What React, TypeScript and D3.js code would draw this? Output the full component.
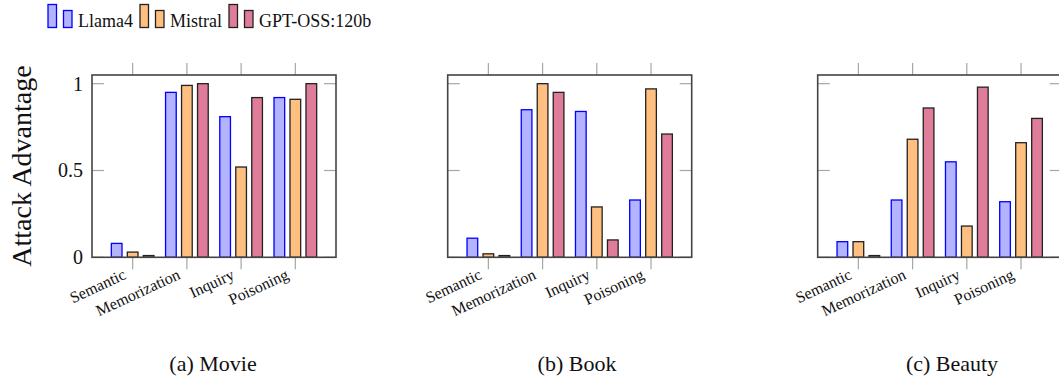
import React from 'react';
import * as d3 from 'd3';

// attack categories and models
const categories = ['Semantic', 'Memorization', 'Inquiry', 'Poisoning'];
const models = ['Llama4', 'Mistral', 'GPT-OSS:120b'];

// values per dataset, one array per model (category order)
const movieLlama = [0.08, 0.95, 0.81, 0.92];
const movieMistral = [0.03, 0.99, 0.52, 0.91];
const movieGpt = [0.01, 1.0, 0.92, 1.0];

const bookLlama = [0.11, 0.85, 0.84, 0.33];
const bookMistral = [0.02, 1.0, 0.29, 0.97];
const bookGpt = [0.01, 0.95, 0.1, 0.71];

const beautyLlama = [0.09, 0.33, 0.55, 0.32];
const beautyMistral = [0.09, 0.68, 0.18, 0.66];
const beautyGpt = [0.01, 0.86, 0.98, 0.8];

const yTicks = [0, 0.5, 1];
const yTickLabels = ['0', '0.5', '1'];

const fills = ['#b3b3ff', '#ffbf80', '#de7c9a'];
const strokes = ['#0000ff', '#222222', '#222222'];

const panels = [
  { caption: '(a) Movie', left: 92, captionX: 213, series: [movieLlama, movieMistral, movieGpt], labels: true },
  { caption: '(b) Book', left: 447.7, captionX: 577, series: [bookLlama, bookMistral, bookGpt], labels: false },
  { caption: '(c) Beauty', left: 817.7, captionX: 952, series: [beautyLlama, beautyMistral, beautyGpt], labels: false },
];

const serif = '"Liberation Serif", "Times New Roman", serif';
const top = 75;
const bottom = 257.3;
const plotW = 244;
const tickGray = '#a6a6a6';

function Panel({ p }: { p: typeof panels[number] }) {
  const x = d3.scaleLinear().domain([-0.75, 3.75]).range([p.left, p.left + plotW]);
  const y = d3.scaleLinear().domain([0, 1.05]).range([bottom, top]);
  const barW = x(0.197) - x(0);
  const offs = [-0.295, 0, 0.295];
  const right = p.left + plotW;

  return (
    <g>
      {/* y ticks inside on both sides */}
      {yTicks.map((t, i) => (
        <g key={'yt' + i}>
          <line x1={p.left} x2={p.left + 12} y1={y(t)} y2={y(t)} stroke={tickGray} strokeWidth={1.2} />
          <line x1={right - 12} x2={right} y1={y(t)} y2={y(t)} stroke={tickGray} strokeWidth={1.2} />
          {p.labels && (
            <text x={p.left - 9} y={y(t)} textAnchor="end" dominantBaseline="central"
              fontFamily={serif} fontSize={20} fill="#111">{yTickLabels[i]}</text>
          )}
        </g>
      ))}
      {/* x ticks outside top and bottom */}
      {categories.map((c, i) => (
        <g key={'xt' + c}>
          <line x1={x(i)} x2={x(i)} y1={top - 12} y2={top} stroke={tickGray} strokeWidth={1.2} />
          <line x1={x(i)} x2={x(i)} y1={bottom} y2={bottom + 12} stroke={tickGray} strokeWidth={1.2} />
          <text transform={`translate(${x(i) - 8},${bottom + 16}) rotate(-25)`} textAnchor="end"
            dominantBaseline="central" fontFamily={serif} fontSize={16} fill="#111">{c}</text>
        </g>
      ))}
      {/* bars */}
      {p.series.map((vals, s) =>
        vals.map((v, i) => (
          <rect key={`b${s}-${i}`} x={x(i + offs[s]) - barW / 2} y={y(v)} width={barW}
            height={y(0) - y(v)} fill={fills[s]} stroke={strokes[s]} strokeWidth={1.3} />
        ))
      )}
      {/* frame */}
      <rect x={p.left} y={top} width={plotW} height={bottom - top} fill="none" stroke="#444" strokeWidth={1.6} />
      <text x={p.captionX} y={371} textAnchor="middle" fontFamily={serif} fontSize={22} fill="#111">{p.caption}</text>
    </g>
  );
}

export default function App() {
  const legendX = [48, 140, 229];
  return (
    <svg width={1059} height={380} style={{ position: 'absolute', left: 0, top: 0, background: '#fff' }}>
      {/* legend */}
      {models.map((m, i) => (
        <g key={m}>
          <rect x={legendX[i]} y={4.5} width={8.5} height={23} fill={fills[i]} stroke={strokes[i]} strokeWidth={1.3} />
          <rect x={legendX[i] + 15.5} y={10.5} width={8.5} height={17} fill={fills[i]} stroke={strokes[i]} strokeWidth={1.3} />
          <text x={legendX[i] + 30} y={27} fontFamily={serif} fontSize={18} fill="#111">{m}</text>
        </g>
      ))}
      <text transform="translate(31,166) rotate(-90)" textAnchor="middle" fontFamily={serif} fontSize={28} fill="#111">
        Attack Advantage
      </text>
      {panels.map((p) => <Panel key={p.caption} p={p} />)}
    </svg>
  );
}
